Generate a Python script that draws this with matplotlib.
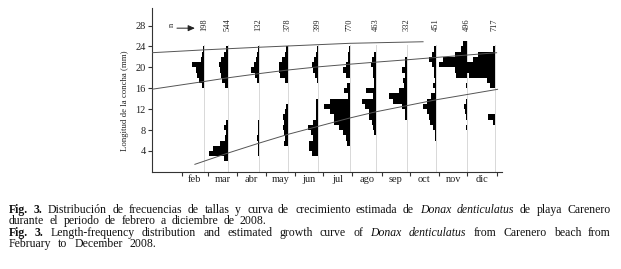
import numpy as np
import matplotlib
matplotlib.use('Agg')
import matplotlib.pyplot as plt
from matplotlib.transforms import IdentityTransform
from matplotlib.backends.backend_agg import get_hinting_flag

plt.rcParams['font.family'] = ['Liberation Serif', 'DejaVu Serif']

# months sampled, day of year of each sample, and n per sample
months = ['feb', 'mar', 'abr', 'may', 'jun', 'jul', 'ago', 'sep', 'oct', 'nov', 'dic']
sample_day = [56, 81, 114, 145, 177, 210, 238, 271, 302, 335, 364]
n_values = [198, 544, 132, 378, 399, 770, 463, 332, 451, 496, 717]
month_start = [32, 60, 91, 121, 152, 182, 213, 244, 274, 305, 335, 366]

# length classes (mm, lower edge) and frequencies
size_bins = np.arange(2, 26)
freq_feb = [0, 0, 0, 0, 0, 0, 0, 0, 0, 0, 0, 0, 0, 0, 2.5, 5, 7, 8, 12.5, 3, 2, 1.5, 0, 0]
freq_mar = [3.5, 19, 15, 8, 3, 1.5, 4, 2, 0, 0, 0, 0, 0, 0, 2.5, 6, 7, 8, 9, 7, 4, 2, 0, 0]
freq_abr = [0, .8, .8, .8, 2, .8, .8, .8, 0, 0, 0, 0, 0, 0, 0, 1.5, 4, 8, 5, 3, 2, 1, 0, 0]
freq_may = [0, 0, 0, 4.5, 3, 4, 5, 4.5, 5.5, 3, 2, 0, 0, 0, 0, 3, 8, 9, 9, 6, 3, 2, 0, 0]
freq_jun = [0, 6, 9, 9, 5, 7, 10, 5, 2.5, 2, 2, 2, 0, 0, 0, 1, 3, 5, 6, 4, 2, 1.5, 0, 0]
freq_jul = [0, 0, 0, 2.5, 3.5, 7, 10.5, 16, 16, 20, 26, 19.5, 2, 6, 3, 0, 3.5, 7, 4, 2, 2, 1, 0, 0]
freq_ago = [0, 0, 0, 0, 0, 1.5, 3, 4, 7, 7, 11, 14, 3, 10, 1.5, 1.5, 3, 3, 5, 4, 2, 0, 0, 0]
freq_sep = [0, 0, 0, 0, 0, 0, 0, 0, 2, 2, 5, 14, 18, 8, 3, 4, 2, 5, 2, 2, 0, 0, 0, 0]
freq_oct = [0, 0, 0, 0, 1.5, 1.5, 3, 6, 7, 9, 13, 9, 5, 1, 3, 1.5, 2, 2, 4, 7, 4, 2, 0, 0]
freq_nov = [0, 0, 0, 0, 0, 0, 1, 0, 1, 2, 3, 1.5, 0, 0, 1, 0, 11, 12, 28, 24, 12, 6, 4, 0]
freq_dic = [0, 0, 0, 0, 0, 0, 0, 1.5, 7, 0, 0, 0, 0, 0, 5, 8, 26, 29, 29, 22, 17, 2, 0, 0]
all_freq = [freq_feb, freq_mar, freq_abr, freq_may, freq_jun, freq_jul,
            freq_ago, freq_sep, freq_oct, freq_nov, freq_dic]
freq_scale = 1.06  # days of x axis per frequency unit

# growth curves (day, length mm)
curve1_day = [0, 56, 114, 210, 288]
curve1_len = [22.8, 23.35, 23.85, 24.6, 24.9]
curve2_day = [0, 56, 81, 114, 145, 177, 210, 238, 271, 302, 366]
curve2_len = [15.8, 17.3, 18.0, 18.8, 19.5, 20.1, 20.6, 21.0, 21.45, 21.9, 22.8]
curve3_day = [46, 81, 114, 145, 210, 238, 302, 367]
curve3_len = [1.45, 3.6, 5.5, 7.2, 10.3, 11.5, 13.8, 15.8]

W, H = 621, 269
fig = plt.figure(figsize=(W / 100, H / 100), dpi=100)
ax = fig.add_axes([151.5 / W, 1 - 171.9 / H, 350.5 / W, 163.6 / H])
ax.set_xlim(0, 371.7)
ax.set_ylim(0, 31.3)

for day, fr in zip(sample_day, all_freq):
    fr = np.array(fr)
    top = max(24.3, size_bins[fr > 0].max() + 1)
    ax.plot([day, day], [0, top], color='#d8d8d8', lw=0.7, zorder=1)
    ax.barh(size_bins + 0.5, -fr * freq_scale, left=day, height=1.0,
            color='black', linewidth=0, zorder=2)

for d, l in [(curve1_day, curve1_len), (curve2_day, curve2_len), (curve3_day, curve3_len)]:
    ax.plot(d, l, color='#555555', lw=0.7, zorder=3)

for day, n in zip(sample_day, n_values):
    ax.text(day - 0.5, 28.1, str(n), rotation=90, ha='center', va='center',
            fontsize=6, color='#222222', clip_on=False)
ax.text(21.4, 28.1, 'n', rotation=90, ha='center', va='center', fontsize=6,
        color='#222222', clip_on=False)
ax.annotate('', xy=(46, 27.5), xytext=(27, 27.5), annotation_clip=False,
            arrowprops=dict(arrowstyle='-|>,head_length=0.4,head_width=0.18',
                            color='#222222', lw=0.7, shrinkA=0, shrinkB=0))

for s in ['top', 'right']:
    ax.spines[s].set_visible(False)
for s in ['left', 'bottom']:
    ax.spines[s].set_linewidth(0.8)
    ax.spines[s].set_color('#333333')

ax.set_yticks(np.arange(4, 29, 4))
ax.tick_params(axis='y', length=3, width=0.8, pad=1.2, labelsize=7.5,
               color='#333333', labelcolor='#222222')
ax.set_xticks(month_start)
ax.set_xticklabels([])
ax.tick_params(axis='x', which='major', length=3, width=0.8, color='#333333')
mid = [(a + b) / 2 for a, b in zip(month_start[:-1], month_start[1:])]
ax.set_xticks(mid, minor=True)
ax.set_xticklabels(months, minor=True)
ax.tick_params(axis='x', which='minor', length=0, pad=2.5, labelsize=7.5,
               labelcolor='#222222')

fig.text(125 / W, 1 - 101 / H, 'Longitud de la concha (mm)', rotation=90,
         ha='center', va='center', fontsize=6.3, color='#222222')

# caption: one text per word, spread between the left margin and the
# line's right end; y nudged so every word lands on the same pixel row
cap_fs = 8.5
renderer = fig.canvas.get_renderer()
canvash = renderer.height


def baseline_y(t, word, row):
    font = renderer._prepare_font(t.get_fontproperties())
    font.set_text(word, 0, flags=get_hinting_flag())
    D = font.get_descent() / 64
    A = font.get_width_height()[1] / 64 - D
    yo = font.get_bitmap_offset()[1] / 64
    yf = row - np.floor(A) + np.floor(A + D) - D - yo
    return canvash - yf


def put_line(words, row, x1, x0=9):
    arts = []
    for w, wt, st in words:
        t = fig.text(0, 0, w, fontsize=cap_fs, fontweight=wt, fontstyle=st,
                     va='baseline', ha='left', color='#111111',
                     transform=IdentityTransform())
        t.set_y(baseline_y(t, w, row))
        arts.append(t)
    widths = [a.get_window_extent(renderer).width for a in arts]
    gap = (x1 - x0 - sum(widths)) / (len(arts) - 1)
    x = x0
    for a, wd in zip(arts, widths):
        a.set_x(round(x))
        x += wd + gap


def words_of(text, wt='normal', st='normal'):
    return [(w, wt, st) for w in text.split()]


line1 = (words_of('Fig. 3.', 'bold') +
         words_of('Distribución de frecuencias de tallas y curva de crecimiento estimada de') +
         words_of('Donax denticulatus', st='italic') +
         words_of('de playa Carenero'))
line2 = words_of('durante el periodo de febrero a diciembre de 2008.')
line3 = (words_of('Fig. 3.', 'bold') +
         words_of('Length-frequency distribution and estimated growth curve of') +
         words_of('Donax denticulatus', st='italic') +
         words_of('from Carenero beach from'))
line4 = words_of('February to December 2008.')

put_line(line1, 213, 611)
put_line(line2, 224, 267)
put_line(line3, 236, 611)
put_line(line4, 247, 157)

fig.savefig('out.png', dpi=100)
